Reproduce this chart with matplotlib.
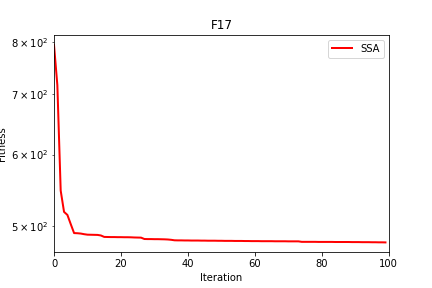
import numpy as np
import matplotlib
matplotlib.use("Agg")
import matplotlib.pyplot as plt

iterations = np.arange(100)
fitness = [
    795.0, 717.0, 547.0, 518.0, 514.0, 502.0, 490.6, 490.4, 490.0, 489.2,
    488.6, 488.5, 488.4, 488.3, 487.6, 485.8, 485.7, 485.6, 485.6, 485.5,
    485.5, 485.4, 485.4, 485.3, 485.1, 485.0, 484.9, 483.2, 483.1, 483.1,
    483.0, 483.0, 482.9, 482.8, 482.6, 482.2, 481.6, 481.5, 481.5, 481.4,
    481.4, 481.3, 481.3, 481.3, 481.2, 481.2, 481.1, 481.1, 481.1, 481.0,
    481.0, 480.9, 480.9, 480.9, 480.8, 480.8, 480.8, 480.7, 480.7, 480.6,
    480.6, 480.6, 480.5, 480.5, 480.5, 480.5, 480.4, 480.4, 480.4, 480.4,
    480.3, 480.3, 480.3, 480.3, 479.7, 479.7, 479.7, 479.7, 479.7, 479.6,
    479.6, 479.6, 479.6, 479.6, 479.5, 479.5, 479.5, 479.5, 479.5, 479.4,
    479.4, 479.4, 479.3, 479.3, 479.3, 479.2, 479.2, 479.1, 479.1, 479.0,
]

fig, ax = plt.subplots(figsize=(6, 4), dpi=72)
fig.subplots_adjust(left=0.125, right=0.9, top=0.8785, bottom=0.124)

ax.plot(iterations, fitness, color='red', linewidth=2, label='SSA')
ax.set_yscale('log')
ax.set_xlim(0, 100)
ax.set_title('F17')
ax.set_xlabel('Iteration')
ax.set_ylabel('Fitness')
ax.legend(loc='upper right')

plt.savefig('out.png', dpi=72)
